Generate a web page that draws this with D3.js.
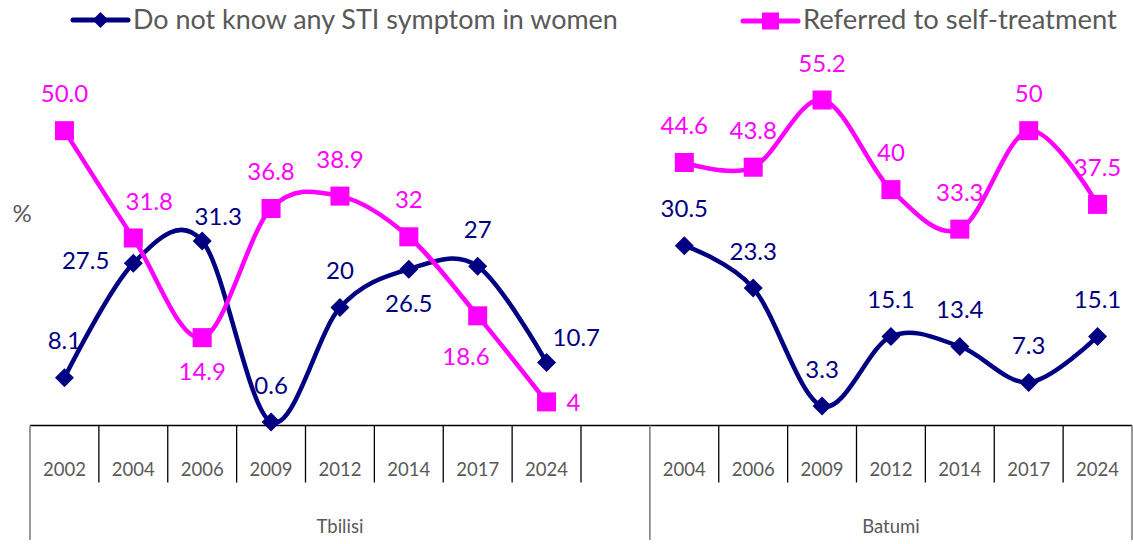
<!DOCTYPE html>
<html><head><meta charset="utf-8">
<script src="https://cdn.jsdelivr.net/npm/d3@7"></script>
<style>body{margin:0;background:#fff} text{font-family:Lato, "Open Sans", sans-serif}</style>
</head><body><svg id="c" width="1133" height="544"></svg>
<script>
// ---------- data ----------
const regions = ["Tbilisi", "Batumi"];
const tbilisiYears = ["2002","2004","2006","2009","2012","2014","2017","2024",""];
const batumiYears  = ["2004","2006","2009","2012","2014","2017","2024"];
const seriesNames = ["Do not know any STI symptom in women", "Referred to self-treatment"];
const tbilisiUnknown = [8.1, 27.5, 31.3, 0.6, 20, 26.5, 27, 10.7];
const tbilisiSelf    = [50.0, 31.8, 14.9, 36.8, 38.9, 32, 18.6, 4];
const batumiUnknown  = [30.5, 23.3, 3.3, 15.1, 13.4, 7.3, 15.1];
const batumiSelf     = [44.6, 43.8, 55.2, 40, 33.3, 50, 37.5];
const tbilisiUnknownLabels = ["8.1","27.5","31.3","0.6","20","26.5","27","10.7"];
const tbilisiSelfLabels    = ["50.0","31.8","14.9","36.8","38.9","32","18.6","4"];
const batumiUnknownLabels  = ["30.5","23.3","3.3","15.1","13.4","7.3","15.1"];
const batumiSelfLabels     = ["44.6","43.8","55.2","40","33.3","50","37.5"];
const yAxisLabel = "%";

// label placement codes (style, not data)
const tbilisiUnknownPos = ["t","l","tr2","t","t","b","t","r"];
const tbilisiSelfPos    = ["t","tr","b","t","t","t","bl","r0"];
const batumiUnknownPos  = ["t","t","t","t","t","t","t"];
const batumiSelfPos     = ["t","t","t","t","t","t","t"];
const placements = {
  t:   {a:"middle", dx:0,   dy:-37},
  b:   {a:"middle", dx:0,   dy:34},
  tr:  {a:"middle", dx:16,  dy:-37},
  tr2: {a:"middle", dx:16,  dy:-25},
  l:   {a:"end",    dx:-24, dy:-3},
  bl:  {a:"end",    dx:12,  dy:41},
  r:   {a:"start",  dx:6,   dy:-25},
  r0:  {a:"start",  dx:20,  dy:0}
};

// ---------- setup ----------
const W = 1133, H = 544;
const svg = d3.select("#c");
const NAVY = "#000080", MAG = "#FF00FF", GRAY = "#595959";

const keys = [];
tbilisiYears.forEach(y => keys.push("Tbilisi|" + y));
batumiYears.forEach(y => keys.push("Batumi|" + y));

const x = d3.scaleBand().domain(keys).range([30, 1132]).padding(0);
const y = d3.scaleLinear().domain([0, 60]).range([425.5, 71.7]);
const cx = k => x(k) + x.bandwidth() / 2;

// ---------- axis ----------
const axisY = y(0);
const ax = svg.append("g");
ax.append("line").attr("x1", x.range()[0]).attr("x2", x.range()[1])
  .attr("y1", axisY).attr("y2", axisY).attr("stroke", "#000").attr("stroke-width", 1.3);
// category separators
keys.forEach((k, i) => {
  if (i === 0) return;
  const isGroup = k.startsWith("Batumi") && keys[i-1].startsWith("Tbilisi");
  ax.append("line").attr("x1", x(k)).attr("x2", x(k))
    .attr("y1", axisY).attr("y2", isGroup ? 540 : 482.5)
    .attr("stroke", isGroup ? "#808080" : "#000").attr("stroke-width", isGroup ? 1.6 : 1.3);
});
// outer edges
[x.range()[0], x.range()[1]].forEach(px => {
  ax.append("line").attr("x1", px).attr("x2", px).attr("y1", axisY).attr("y2", 540)
    .attr("stroke", "#808080").attr("stroke-width", 1.6);
});
// tick labels
keys.forEach(k => {
  const yr = k.split("|")[1];
  if (!yr) return;
  ax.append("text").attr("x", cx(k)).attr("y", 476).attr("text-anchor", "middle")
    .attr("font-size", 18.5).attr("fill", GRAY).text(yr);
});
// group labels
regions.forEach(r => {
  const ks = keys.filter(k => k.startsWith(r + "|"));
  const x0 = x(ks[0]), x1 = x(ks[ks.length - 1]) + x.bandwidth();
  ax.append("text").attr("x", (x0 + x1) / 2).attr("y", 533).attr("text-anchor", "middle")
    .attr("font-size", 18.5).attr("fill", GRAY).text(r);
});
svg.append("text").attr("x", 22).attr("y", 222).attr("text-anchor", "middle")
  .attr("font-size", 24).attr("fill", GRAY).text(yAxisLabel);

// ---------- series ----------
const curve = d3.curveCardinal.tension(0);
const line = d3.line().x(d => cx(d.k)).y(d => y(d.v)).curve(curve);

function build(region, years, vals, labels, pos) {
  return vals.map((v, i) => ({k: region + "|" + years[i], v, lab: labels[i], pos: pos[i]}));
}
const series = [
  {color: NAVY, shape: "diamond", parts: [
    build("Tbilisi", tbilisiYears, tbilisiUnknown, tbilisiUnknownLabels, tbilisiUnknownPos),
    build("Batumi", batumiYears, batumiUnknown, batumiUnknownLabels, batumiUnknownPos)]},
  {color: MAG, shape: "square", parts: [
    build("Tbilisi", tbilisiYears, tbilisiSelf, tbilisiSelfLabels, tbilisiSelfPos),
    build("Batumi", batumiYears, batumiSelf, batumiSelfLabels, batumiSelfPos)]}
];

function marker(g, shape, color, px, py, legend) {
  if (shape === "diamond") {
    const r = legend ? 8 : 9.5;
    g.append("path").attr("d", `M${px},${py-r}L${px+r},${py}L${px},${py+r}L${px-r},${py}Z`).attr("fill", color);
  } else {
    const s = legend ? 17 : 19;
    g.append("rect").attr("x", px - s/2).attr("y", py - s/2).attr("width", s).attr("height", s).attr("fill", color);
  }
}

series.forEach(s => {
  const g = svg.append("g");
  s.parts.forEach(p => {
    g.append("path").attr("d", line(p)).attr("fill", "none").attr("stroke", s.color)
      .attr("stroke-width", 4.5).attr("stroke-linejoin", "round").attr("stroke-linecap", "round");
    p.forEach(d => marker(g, s.shape, s.color, cx(d.k), y(d.v), false));
  });
});
// data labels
series.forEach(s => {
  s.parts.forEach(p => p.forEach(d => {
    const pl = placements[d.pos];
    svg.append("text").attr("x", cx(d.k) + pl.dx).attr("y", y(d.v) + pl.dy)
      .attr("dy", "0.36em").attr("text-anchor", pl.a).attr("font-size", 24)
      .attr("fill", s.color).text(d.lab);
  }));
});

// ---------- legend ----------
const legendItems = [
  {name: seriesNames[0], color: NAVY, shape: "diamond", lx0: 73, lx1: 128, ly: 20, tx: 133, tw: 485},
  {name: seriesNames[1], color: MAG,  shape: "square",  lx0: 743, lx1: 798, ly: 21, tx: 803, tw: 314}
];
legendItems.forEach(it => {
  const g = svg.append("g");
  g.append("line").attr("x1", it.lx0).attr("x2", it.lx1).attr("y1", it.ly).attr("y2", it.ly)
    .attr("stroke", it.color).attr("stroke-width", 5).attr("stroke-linecap", "round");
  marker(g, it.shape, it.color, (it.lx0 + it.lx1) / 2, it.ly, true);
  const t = g.append("text").attr("x", it.tx).attr("y", 29).attr("font-size", 24)
    .attr("fill", GRAY).text(it.name);
  const w = t.node().getComputedTextLength();
  if (w > 0) t.attr("font-size", 24 * it.tw / w);
});
</script></body></html>
